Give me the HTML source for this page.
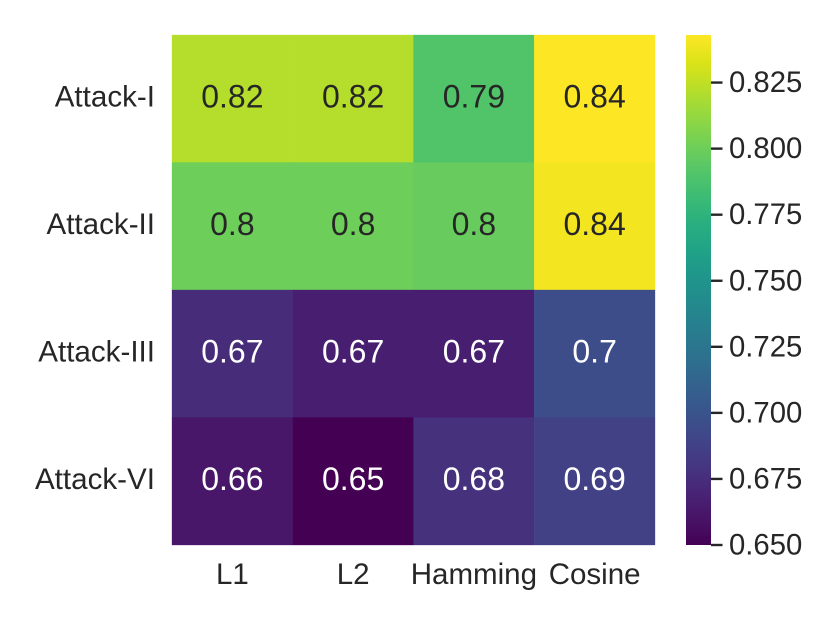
<!DOCTYPE html>
<html>
<head>
<meta charset="utf-8">
<title>Attack heatmap</title>
<style>
html,body{margin:0;padding:0;background:#fff;}
svg{display:block;font-family:"Liberation Sans",Arial,sans-serif;}
</style>
</head>
<body>
<svg id="chart" xmlns="http://www.w3.org/2000/svg" width="830" height="623" viewBox="0 0 830 623">
<defs><linearGradient id="cbar-gradient" x1="0" y1="1" x2="0" y2="0"></linearGradient></defs>
<rect x="0" y="0" width="830" height="623" fill="#fff"/>
</svg>
<script>
const columns = ['L1', 'L2', 'Hamming', 'Cosine'];
const rows = ['Attack-I', 'Attack-II', 'Attack-III', 'Attack-VI'];
const rowAttackI = [0.8215, 0.8215, 0.79, 0.843];
const rowAttackII = [0.80, 0.80, 0.798, 0.84];
const rowAttackIII = [0.674, 0.6665, 0.6665, 0.6955];
const rowAttackVI = [0.662, 0.65, 0.677, 0.687];
const colorbarTicks = [0.65, 0.675, 0.7, 0.725, 0.75, 0.775, 0.8, 0.825];
const colorMin = 0.65;
const colorMax = 0.843;
const viridis = ['#440154','#481467','#482576','#453781','#404688','#39558c','#33638d','#2d718e','#287d8e','#238a8d','#1f968b','#20a386','#29af7f','#3dbc74','#56c667','#74d055','#94d840','#b8de29','#dce318','#fde725'];

const values = [rowAttackI, rowAttackII, rowAttackIII, rowAttackVI];
const NS = 'http://www.w3.org/2000/svg';
const svg = document.getElementById('chart');
const plot = {left: 172, right: 655, top: 35, bottom: 545};
const bar = {left: 686, right: 711, top: 35, bottom: 545};
const ink = '#262626';

function xCell(i) { return plot.left + (plot.right - plot.left) * i / columns.length; }
function yCell(i) { return plot.top + (plot.bottom - plot.top) * i / rows.length; }
function yBar(v) { return bar.bottom - (v - colorMin) / (colorMax - colorMin) * (bar.bottom - bar.top); }
function hexToRgb(h) { return [1, 3, 5].map(function (p) { return parseInt(h.substr(p, 2), 16); }); }
function colorOf(v) {
  const t = Math.max(0, Math.min(1, (v - colorMin) / (colorMax - colorMin))) * (viridis.length - 1);
  const i = Math.min(viridis.length - 2, Math.floor(t));
  const a = hexToRgb(viridis[i]);
  const b = hexToRgb(viridis[i + 1]);
  const f = t - i;
  return 'rgb(' + a.map(function (c, k) { return Math.round(c + (b[k] - c) * f); }).join(',') + ')';
}
function luminance(v) {
  const m = colorOf(v).match(/\d+/g).map(Number);
  return 0.2126 * m[0] + 0.7152 * m[1] + 0.0722 * m[2];
}
function make(tag, props, text) {
  const el = document.createElementNS(NS, tag);
  Object.keys(props).forEach(function (k) { el.setAttribute(k, props[k]); });
  if (text !== undefined) el.textContent = text;
  svg.appendChild(el);
  return el;
}

values.forEach(function (row, r) {
  row.forEach(function (v, c) {
    const cell = make('rect', {x: xCell(c), y: yCell(r), width: xCell(c + 1) - xCell(c), height: yCell(r + 1) - yCell(r), fill: colorOf(v), stroke: colorOf(v), 'stroke-width': 0.3});
    
    
  });
});
values.forEach(function (row, r) {
  row.forEach(function (v, c) {
    const label = make('text', {x: (xCell(c) + xCell(c + 1)) / 2, y: (yCell(r) + yCell(r + 1)) / 2 + 8.5, 'text-anchor': 'middle', 'font-size': 32, fill: luminance(v) > 100 ? ink : '#ffffff'}, String(Number(v.toFixed(2))));
    
    
  });
});
rows.forEach(function (name, r) {
  const label = make('text', {x: 155, y: (yCell(r) + yCell(r + 1)) / 2 + 7.5, 'text-anchor': 'end', 'font-size': 29.6, fill: ink}, name);
  
  
});
columns.forEach(function (name, c) {
  const label = make('text', {x: (xCell(c) + xCell(c + 1)) / 2, y: 584, 'text-anchor': 'middle', 'font-size': 29.5, fill: ink}, name);
  
  
});

const gradient = document.getElementById('cbar-gradient');
viridis.forEach(function (color, i) {
  const stop = document.createElementNS(NS, 'stop');
  stop.setAttribute('offset', i / (viridis.length - 1));
  stop.setAttribute('stop-color', color);
  gradient.appendChild(stop);
});
const colorbar = make('rect', {x: bar.left, y: bar.top, width: bar.right - bar.left, height: bar.bottom - bar.top, fill: 'url(#cbar-gradient)'});



colorbarTicks.forEach(function (v) {
  const y = yBar(v);
  const tick = make('line', {x1: bar.right, x2: bar.right + 11.5, y1: y, y2: y, stroke: ink, 'stroke-width': 2.4});
  
  
  const label = make('text', {x: 729, y: y + 9.5, 'text-anchor': 'start', 'font-size': 29.3, fill: ink}, v.toFixed(3));
  
  
});
</script>
</body>
</html>
